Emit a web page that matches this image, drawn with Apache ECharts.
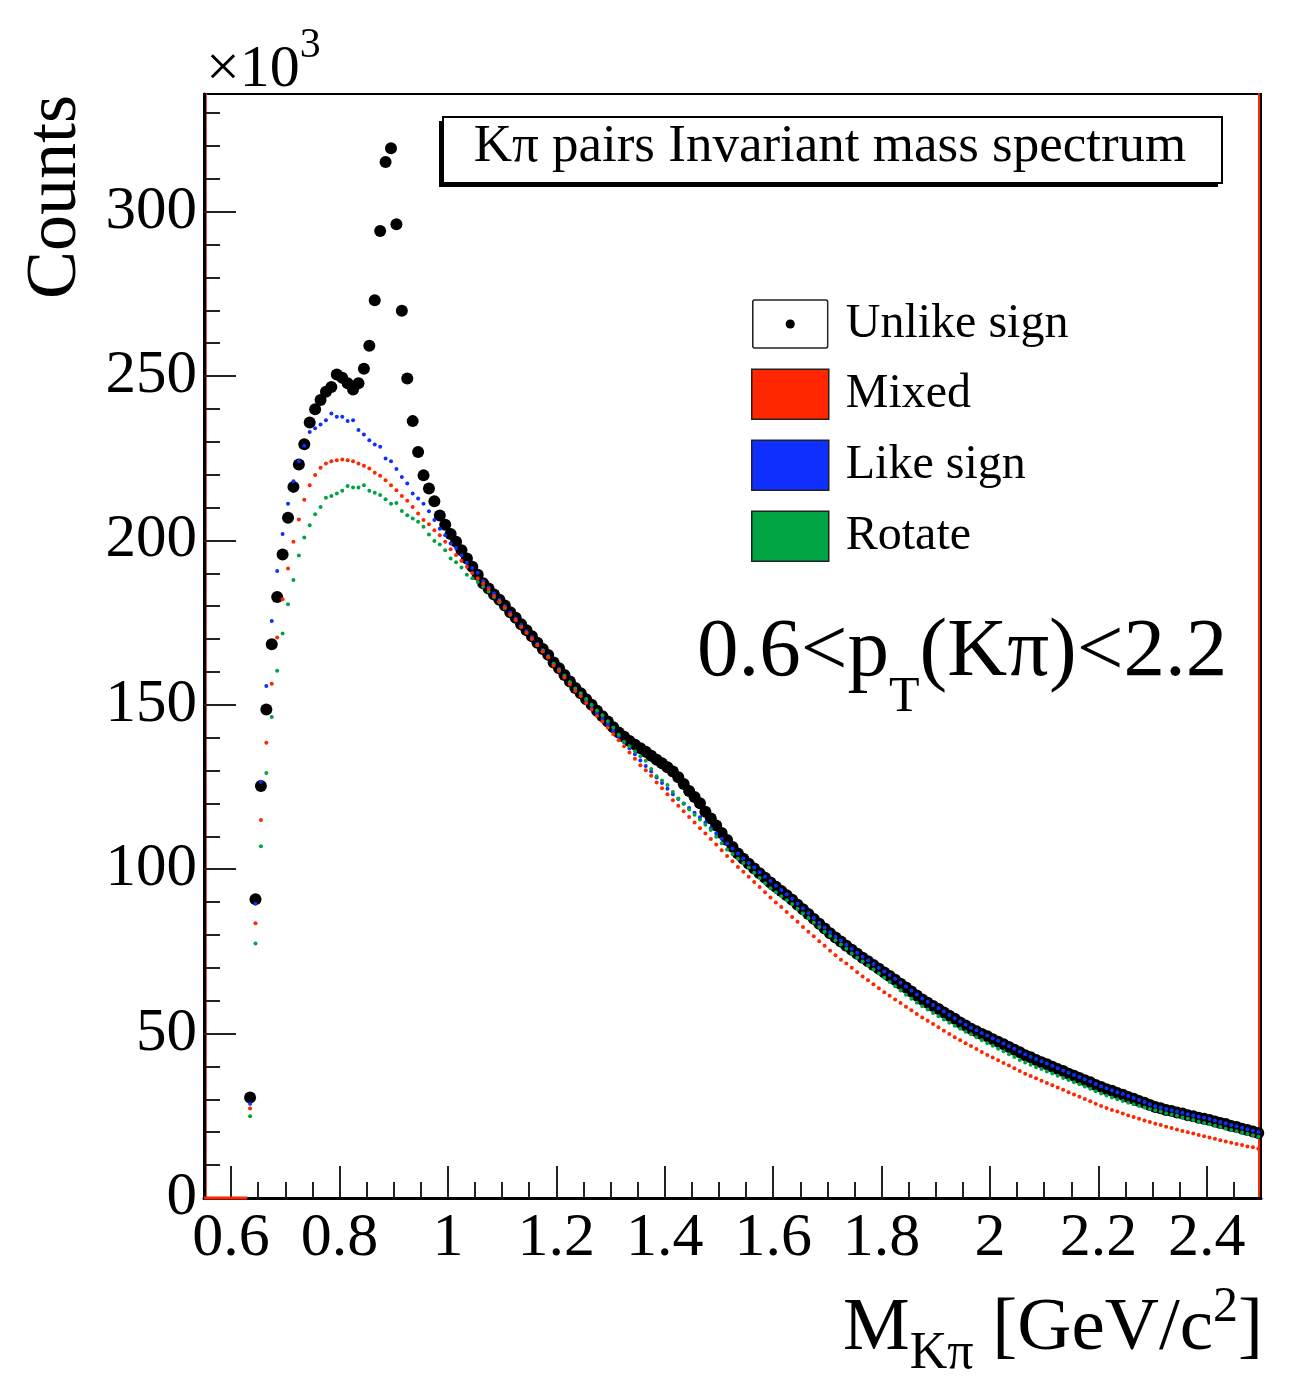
<!DOCTYPE html>
<html>
<head>
<meta charset="utf-8">
<title>K pi invariant mass spectrum</title>
<script src="https://cdn.jsdelivr.net/npm/echarts@6/dist/echarts.min.js"></script>
<style>
    html, body { margin: 0; padding: 0; background: #fff; }
    #chart { width: 1291px; height: 1376px; }
</style>
</head>
<body>
<div id="chart"></div>
<script>
// histogram binning (bin centres), counts are in units of 10^3
const binStart = 0.635;
const binWidth = 0.01;

const unlikeSign = [
    30.6, 90.9, 125.3, 148.6, 168.4, 182.8, 195.7, 206.9, 216.3, 223.1,
    229.3, 235.9, 239.9, 242.7, 245.2, 246.7, 250.5, 249.5, 247.8, 245.9,
    247.8, 252.2, 259.2, 273.1, 294.1, 315.1, 319.3, 296.2, 269.9, 249.3,
    236.3, 226.9, 219.8, 215.8, 211.9, 207.6, 204.8, 202.0, 199.6, 197.0,
    194.5, 192.0, 189.6, 187.0, 185.4, 183.6, 182.0, 180.2, 178.2, 176.5,
    174.5, 172.7, 170.9, 168.9, 167.0, 165.2, 162.9, 161.1, 159.1, 157.1,
    155.1, 153.5, 151.7, 150.0, 148.2, 146.5, 144.9, 143.2, 141.6, 140.3,
    139.0, 137.9, 136.8, 135.7, 134.5, 133.3, 132.2, 131.0, 129.7, 128.0,
    125.9, 123.8, 122.0, 120.1, 117.5, 115.4, 113.3, 111.0, 108.9, 106.8,
    104.8, 103.2, 101.7, 100.2, 98.8, 97.4, 96.0, 94.7, 93.4, 92.1,
    90.7, 89.2, 87.8, 86.4, 84.9, 83.4, 82.0, 80.5, 79.2, 78.0,
    76.7, 75.5, 74.3, 73.1, 72.0, 70.9, 69.7, 68.6, 67.5, 66.4,
    65.2, 64.0, 62.8, 61.6, 60.4, 59.4, 58.4, 57.5, 56.4, 55.4,
    54.5, 53.4, 52.5, 51.5, 50.7, 49.9, 49.2, 48.3, 47.5, 46.8,
    45.9, 45.1, 44.3, 43.4, 42.8, 42.0, 41.3, 40.7, 39.9, 39.2,
    38.6, 37.8, 37.2, 36.5, 35.8, 35.2, 34.4, 33.8, 33.1, 32.6,
    31.9, 31.4, 30.7, 30.2, 29.5, 29.0, 28.3, 27.7, 27.3, 26.8,
    26.5, 26.0, 25.7, 25.2, 24.9, 24.4, 24.1, 23.7, 23.3, 22.8,
    22.5, 21.9, 21.6, 21.1, 20.7, 20.2, 19.8
];

const mixed = [
    27.2, 83.6, 115.0, 138.5, 156.4, 170.5, 182.1, 191.5, 199.6, 206.4,
    212.4, 216.8, 219.9, 222.1, 223.4, 224.1, 224.4, 224.6, 224.4, 224.1,
    223.4, 222.7, 221.9, 220.6, 219.7, 218.3, 216.8, 215.3, 213.5, 212.1,
    210.2, 208.2, 206.2, 204.9, 203.1, 201.6, 199.6, 197.3, 195.6, 193.8,
    192.0, 190.1, 188.5, 186.9, 185.2, 183.1, 181.5, 179.6, 177.5, 175.8,
    173.7, 171.9, 170.1, 168.1, 166.2, 164.4, 162.0, 160.3, 158.3, 156.2,
    154.2, 152.6, 150.6, 148.6, 146.6, 144.9, 143.1, 141.1, 139.2, 137.4,
    135.5, 133.6, 131.6, 130.1, 128.4, 126.4, 124.6, 122.8, 121.0, 119.3,
    117.6, 115.9, 114.2, 112.5, 110.9, 109.2, 107.5, 105.8, 104.0, 102.4,
    100.7, 99.2, 97.7, 96.1, 94.6, 93.0, 91.4, 89.9, 88.5, 87.0,
    85.5, 84.0, 82.4, 81.0, 79.6, 78.1, 76.7, 75.2, 73.8, 72.5,
    71.3, 70.0, 68.7, 67.4, 66.2, 65.0, 63.8, 62.6, 61.5, 60.4,
    59.3, 58.2, 57.1, 56.0, 54.9, 53.9, 52.9, 51.9, 50.9, 49.9,
    48.9, 48.0, 47.1, 46.2, 45.3, 44.4, 43.5, 42.7, 41.9, 41.1,
    40.3, 39.5, 38.6, 37.8, 37.1, 36.4, 35.7, 35.0, 34.3, 33.6,
    32.9, 32.2, 31.5, 30.8, 30.1, 29.4, 28.7, 28.0, 27.4, 26.8,
    26.3, 25.7, 25.1, 24.6, 24.1, 23.6, 23.1, 22.6, 22.2, 21.7,
    21.3, 20.8, 20.4, 20.0, 19.6, 19.2, 18.8, 18.4, 18.0, 17.6,
    17.2, 16.8, 16.4, 16.1, 15.7, 15.4, 15.0
];

const likeSign = [
    28.7, 89.5, 126.6, 155.7, 175.5, 190.7, 202.0, 211.2, 218.0, 224.1,
    228.8, 233.0, 234.1, 235.3, 236.6, 238.6, 237.6, 237.6, 236.3, 236.6,
    233.6, 232.2, 230.5, 229.2, 228.5, 224.9, 224.1, 221.7, 219.3, 217.3,
    214.3, 212.8, 211.2, 208.9, 206.2, 203.6, 201.6, 199.1, 197.7, 195.5,
    193.2, 191.6, 190.2, 187.7, 185.7, 183.9, 182.0, 180.1, 178.1, 176.3,
    174.3, 172.4, 170.6, 168.6, 166.7, 164.9, 162.6, 160.9, 158.9, 156.8,
    154.8, 153.2, 151.3, 149.4, 147.5, 145.8, 144.1, 142.2, 140.4, 138.6,
    136.8, 135.0, 133.1, 131.4, 129.7, 127.9, 126.2, 124.5, 122.8, 121.4,
    120.0, 118.6, 117.2, 115.8, 114.2, 112.5, 110.9, 109.3, 107.8, 106.3,
    104.8, 103.3, 101.9, 100.5, 99.1, 97.7, 96.4, 95.0, 93.7, 92.4,
    91.0, 89.5, 88.1, 86.7, 85.2, 83.7, 82.3, 80.8, 79.5, 78.3,
    77.0, 75.8, 74.6, 73.4, 72.3, 71.2, 70.0, 68.9, 67.8, 66.7,
    65.5, 64.3, 63.1, 61.9, 60.7, 59.7, 58.7, 57.7, 56.7, 55.7,
    54.7, 53.7, 52.7, 51.8, 51.0, 50.2, 49.4, 48.6, 47.8, 47.0,
    46.2, 45.4, 44.5, 43.7, 43.0, 42.3, 41.6, 40.9, 40.2, 39.5,
    38.8, 38.1, 37.4, 36.8, 36.1, 35.4, 34.7, 34.0, 33.4, 32.8,
    32.2, 31.6, 31.0, 30.4, 29.8, 29.2, 28.5, 27.9, 27.5, 27.1,
    26.7, 26.3, 25.9, 25.5, 25.1, 24.7, 24.4, 24.0, 23.6, 23.1,
    22.7, 22.2, 21.8, 21.4, 20.9, 20.5, 20.1
];

const rotate = [
    24.9, 77.4, 107.0, 129.3, 146.3, 160.4, 171.7, 180.6, 188.0, 195.4,
    200.9, 204.6, 208.0, 210.2, 213.0, 213.5, 214.3, 215.1, 216.6, 216.1,
    216.1, 216.8, 215.1, 214.5, 213.8, 212.5, 211.2, 211.4, 209.0, 207.7,
    206.7, 205.7, 204.2, 201.8, 199.8, 198.8, 197.0, 194.5, 193.4, 191.8,
    189.6, 188.5, 187.4, 185.9, 184.5, 182.8, 181.2, 179.4, 177.4, 175.7,
    173.7, 171.9, 170.1, 168.2, 166.4, 164.6, 162.4, 160.7, 158.8, 156.9,
    155.0, 153.5, 151.8, 150.0, 148.3, 146.8, 145.0, 143.1, 140.9, 138.8,
    137.4, 135.9, 134.4, 133.0, 130.5, 128.3, 127.0, 125.6, 123.5, 121.5,
    119.9, 118.2, 116.6, 115.1, 113.5, 111.9, 109.9, 107.9, 106.0, 104.6,
    103.2, 101.9, 100.5, 98.9, 97.3, 95.7, 94.2, 93.0, 91.8, 90.6,
    89.4, 88.0, 86.6, 85.2, 83.8, 82.4, 81.0, 79.7, 78.4, 77.1,
    75.8, 74.4, 73.1, 71.9, 70.7, 69.5, 68.3, 67.0, 65.7, 64.4,
    63.1, 61.8, 60.6, 59.4, 58.3, 57.3, 56.3, 55.3, 54.3, 53.3,
    52.4, 51.5, 50.6, 49.8, 48.9, 48.0, 47.1, 46.3, 45.4, 44.6,
    43.7, 42.9, 42.0, 41.2, 40.5, 39.8, 39.2, 38.5, 37.9, 37.2,
    36.5, 35.9, 35.2, 34.6, 33.9, 33.2, 32.5, 31.8, 31.2, 30.6,
    30.0, 29.5, 29.0, 28.5, 28.0, 27.5, 27.1, 26.7, 26.3, 25.8,
    25.4, 25.0, 24.5, 24.1, 23.7, 23.3, 22.8, 22.4, 22.0, 21.6,
    21.1, 20.7, 20.3, 19.9, 19.5, 19.1, 18.6
];

// empty Mixed bins drawn at zero before the first filled bin
const mixedEmptyRange = [0.55, 0.63];

// axis ranges and tick labels
const xRange = [0.55, 2.5];
const yRange = [0, 335.8];
const xMajorTicks = [0.6, 0.8, 1, 1.2, 1.4, 1.6, 1.8, 2, 2.2, 2.4];
const yMajorTicks = [0, 50, 100, 150, 200, 250, 300];

const legendNames = ['Unlike sign', 'Mixed', 'Like sign', 'Rotate'];

const FONT = '"Liberation Serif", "Times New Roman", serif';
const MID = 0.3375; // em offset of the "middle" baseline above the alphabetic one

function minorTicks(from, to, step) {
    const out = [];
    for (let v = from; v <= to + 1e-9; v += step) {
        out.push(Math.round(v * 1000) / 1000);
    }
    return out;
}

function toPoints(values) {
    return values.map((v, i) => [Math.round((binStart + i * binWidth) * 1000) / 1000, v]);
}

const measureCtx = document.createElement('canvas').getContext('2d');
function textWidth(str, size) {
    measureCtx.font = size + 'px ' + FONT;
    return measureCtx.measureText(str).width;
}

/**
 * Lay out a run of text pieces on one baseline (for sub/superscripts)
 * @param {Array} pieces - [text, fontSize, baselineShift]
 */
function textRun(pieces, x, baseline, align) {
    const total = pieces.reduce((s, p) => s + textWidth(p[0], p[1]), 0);
    let cx = align === 'right' ? x - total : align === 'center' ? x - total / 2 : x;
    return pieces.map(([t, size, dy]) => {
        const el = {
            type: 'text',
            x: cx,
            y: baseline + (dy || 0) - MID * size,
            silent: true,
            style: {
                text: t,
                font: size + 'px ' + FONT,
                fill: '#000',
                align: 'left',
                verticalAlign: 'middle',
                textAlign: 'left',
                textVerticalAlign: 'middle'
            }
        };
        cx += textWidth(t, size);
        return el;
    });
}

const unlikeIcon = 'image://data:image/svg+xml;utf8,' + encodeURIComponent(
    '<svg xmlns="http://www.w3.org/2000/svg" width="77" height="50" viewBox="0 0 77 50" preserveAspectRatio="none">' +
    '<rect x="1" y="1" width="75" height="48" rx="2" fill="#fff" stroke="#222" stroke-width="1.6"/>' +
    '<circle cx="38.5" cy="25" r="4.6" fill="#000"/></svg>'
);

const colors = {
    unlike: '#000000',
    mixed: '#ff2600',
    like: '#0f2fff',
    rotate: '#00a443'
};

const chart = echarts.init(document.getElementById('chart'), null, { renderer: 'canvas' });

const graphics = [
    // title pave with shadow
    { type: 'rect', silent: true, shape: { x: 439, y: 121, width: 779, height: 66 }, style: { fill: '#000' } },
    { type: 'rect', silent: true, shape: { x: 443, y: 117, width: 779, height: 66 }, style: { fill: '#fff', stroke: '#000', lineWidth: 2 } },
    ...textRun([['K\u03c0 pairs Invariant mass spectrum', 53, 0]], 830, 165, 'center'),
    // pT range
    ...textRun([['0.6<p', 83, 0], ['T', 50, 34], ['(K\u03c0)<2.2', 83, 0]], 697, 681, 'left'),
    // exponent on y axis
    ...textRun([['\u00d710', 60, 0], ['3', 42, -30]], 206, 90, 'left'),
    // x axis title
    ...textRun([['M', 75, 0], ['K\u03c0', 52, 17], [' [GeV/c', 75, 0], ['2', 50, -30], [']', 75, 0]], 1263, 1355, 'right'),
    // y axis title
    {
        type: 'text',
        x: 80 - MID * 72,
        y: 95,
        rotation: Math.PI / 2,
        silent: true,
        style: {
            text: 'Counts',
            font: '72px ' + FONT,
            fill: '#000',
            align: 'right',
            verticalAlign: 'middle',
            textAlign: 'right',
            textVerticalAlign: 'middle'
        }
    }
];

const option = {
    animation: false,
    backgroundColor: '#fff',
    grid: {
        left: 204,
        top: 94,
        right: 30,
        bottom: 178,
        show: true,
        borderColor: '#000',
        borderWidth: 2,
        backgroundColor: 'transparent',
        containLabel: false
    },
    legend: {
        show: true,
        orient: 'vertical',
        left: 751,
        top: 299,
        padding: 0,
        itemWidth: 77,
        itemHeight: 50,
        itemGap: 19.5,
        selectedMode: false,
        formatter: name => ' ' + name,
        textStyle: {
            fontFamily: FONT,
            fontSize: 48,
            lineHeight: 50,
            color: '#000'
        },
        data: [
            { name: legendNames[0], icon: unlikeIcon },
            { name: legendNames[1], icon: 'rect', itemStyle: { color: colors.mixed, opacity: 1, borderColor: '#222', borderWidth: 1.5 } },
            { name: legendNames[2], icon: 'rect', itemStyle: { color: colors.like, opacity: 1, borderColor: '#222', borderWidth: 1.5 } },
            { name: legendNames[3], icon: 'rect', itemStyle: { color: colors.rotate, opacity: 1, borderColor: '#222', borderWidth: 1.5 } }
        ]
    },
    xAxis: [
        {
            type: 'value',
            position: 'bottom',
            min: xRange[0],
            max: xRange[1],
            axisLine: { show: true, onZero: false, lineStyle: { color: '#000', width: 3 } },
            axisTick: { show: true, inside: true, length: 32, customValues: xMajorTicks, lineStyle: { color: '#222', width: 2 } },
            axisLabel: {
                show: true,
                customValues: xMajorTicks,
                formatter: v => String(v),
                fontFamily: FONT,
                fontSize: 62,
                lineHeight: 62,
                color: '#000',
                margin: 10
            },
            splitLine: { show: false }
        },
        {
            type: 'value',
            position: 'bottom',
            min: xRange[0],
            max: xRange[1],
            axisLine: { show: false },
            axisTick: { show: true, inside: true, length: 16, customValues: minorTicks(0.6, 2.45, 0.05), lineStyle: { color: '#222', width: 2 } },
            axisLabel: { show: false },
            splitLine: { show: false }
        }
    ],
    yAxis: [
        {
            type: 'value',
            position: 'left',
            min: yRange[0],
            max: yRange[1],
            axisLine: { show: true, onZero: false, lineStyle: { color: '#000', width: 3 } },
            axisTick: { show: true, inside: true, length: 32, customValues: yMajorTicks, lineStyle: { color: '#222', width: 2 } },
            axisLabel: {
                show: true,
                customValues: yMajorTicks,
                formatter: v => String(v),
                fontFamily: FONT,
                fontSize: 61,
                color: '#000',
                margin: 7
            },
            splitLine: { show: false }
        },
        {
            type: 'value',
            position: 'left',
            offset: -2,
            min: yRange[0],
            max: yRange[1],
            axisLine: { show: true, onZero: false, lineStyle: { color: '#d9534a', width: 1 } },
            axisTick: { show: true, inside: true, length: 14, customValues: minorTicks(10, 330, 10), lineStyle: { color: '#222', width: 2 } },
            axisLabel: { show: false },
            splitLine: { show: false }
        },
        {
            type: 'value',
            position: 'right',
            offset: -2,
            min: yRange[0],
            max: yRange[1],
            axisLine: { show: true, onZero: false, lineStyle: { color: '#ff2600', width: 2 } },
            axisTick: { show: false },
            axisLabel: { show: false },
            splitLine: { show: false }
        }
    ],
    series: [
        {
            name: legendNames[0],
            type: 'scatter',
            symbol: 'circle',
            symbolSize: 12,
            itemStyle: { color: colors.unlike, opacity: 1 },
            silent: true,
            data: toPoints(unlikeSign)
        },
        {
            name: legendNames[2],
            type: 'scatter',
            symbol: 'circle',
            symbolSize: 4,
            itemStyle: { color: colors.like, opacity: 1 },
            silent: true,
            data: toPoints(likeSign)
        },
        {
            name: legendNames[3],
            type: 'scatter',
            symbol: 'circle',
            symbolSize: 4,
            itemStyle: { color: colors.rotate, opacity: 1 },
            silent: true,
            data: toPoints(rotate)
        },
        {
            name: legendNames[1],
            type: 'scatter',
            symbol: 'circle',
            symbolSize: 4,
            itemStyle: { color: colors.mixed, opacity: 1 },
            silent: true,
            data: toPoints(mixed)
        },
        {
            name: 'Mixed empty bins',
            type: 'line',
            symbol: 'none',
            clip: false,
            silent: true,
            lineStyle: { color: colors.mixed, width: 3 },
            data: mixedEmptyRange.map(x => [x, 0])
        }
    ],
    graphic: graphics
};

chart.setOption(option);
</script>
</body>
</html>
